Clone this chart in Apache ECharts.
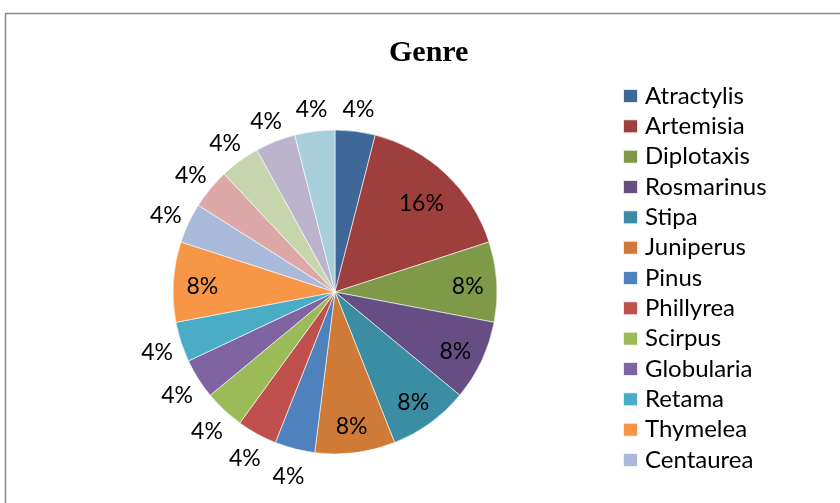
<!DOCTYPE html>
<html>
<head>
<meta charset="utf-8">
<script src="https://cdn.jsdelivr.net/npm/echarts@6/dist/echarts.min.js"></script>
<style>
  html, body { margin: 0; padding: 0; background: #fff; }
  #chart { width: 840px; height: 503px; }
</style>
</head>
<body>
<div id="chart"></div>
<script>
// Genres in clockwise order from 12 o'clock (only the first 13 are listed in the legend)
const genres = ['Atractylis', 'Artemisia', 'Diplotaxis', 'Rosmarinus', 'Stipa', 'Juniperus',
  'Pinus', 'Phillyrea', 'Scirpus', 'Globularia', 'Retama', 'Thymelea', 'Centaurea',
  'Lygeum', 'Peganum', 'Ziziphus', 'Thapsia'];
// Share of each genre, percent
const percents = [4, 16, 8, 8, 8, 8, 4, 4, 4, 4, 4, 8, 4, 4, 4, 4, 4];
// Legend entries visible in the reference
const legendNames = ['Atractylis', 'Artemisia', 'Diplotaxis', 'Rosmarinus', 'Stipa', 'Juniperus',
  'Pinus', 'Phillyrea', 'Scirpus', 'Globularia', 'Retama', 'Thymelea', 'Centaurea'];

const colors = ['#3F6797', '#9E3F3D', '#7E9A48', '#664E85', '#3A8DA2', '#CF7B37',
  '#4F81BD', '#C0504D', '#9BBB59', '#8064A2', '#4BACC6', '#F79646', '#A9BADB',
  '#DCA9A8', '#C6D5AC', '#BCB3CD', '#A9CEDC'];

const FONT = 'Lato';
const center = [335, 292];

const mainData = genres.map((g, i) => ({
  name: g, value: percents[i], itemStyle: { color: colors[i] }
}));
const labelData = (showIf) => genres.map((g, i) => ({
  name: g, value: percents[i],
  label: { show: showIf(percents[i]) }
}));

const labelSeries = (radius, showIf) => ({
  type: 'pie',
  center: center,
  radius: radius,
  startAngle: 90,
  silent: true,
  legendHoverLink: false,
  animation: false,
  itemStyle: { color: 'rgba(0,0,0,0)', borderWidth: 0 },
  emphasis: { disabled: true },
  label: {
    position: 'inside',
    formatter: '{c}%',
    color: '#000',
    fontFamily: FONT,
    fontSize: 23,
    offset: [0, 3]
  },
  labelLine: { show: false },
  data: labelData(showIf)
});

const chart = echarts.init(document.getElementById('chart'), null, { renderer: 'canvas' });
chart.setOption({
  animation: false,
  backgroundColor: '#fff',
  title: {
    text: 'Genre',
    left: 389,
    top: 38,
    padding: 0,
    textStyle: {
      fontFamily: '"Liberation Serif", "Times New Roman", serif',
      fontWeight: 'bold',
      fontSize: 30,
      color: '#000'
    }
  },
  graphic: [{
    type: 'rect',
    shape: { x: 5.5, y: 13.5, width: 900, height: 600 },
    style: { fill: 'none', stroke: '#8a8a8a', lineWidth: 1.5 },
    silent: true
  }],
  legend: {
    orient: 'vertical',
    left: 617,
    top: 79,
    data: legendNames,
    icon: 'rect',
    itemWidth: 15,
    itemHeight: 14,
    itemGap: 6.33,
    selectedMode: false,
    textStyle: { fontFamily: FONT, fontSize: 24, color: '#000', padding: [0, 0, 0, 2] }
  },
  series: [
    {
      type: 'pie',
      center: center,
      radius: 162,
      startAngle: 90,
      animation: false,
      itemStyle: { borderColor: 'rgba(255,255,255,0.85)', borderWidth: 0.7 },
      label: { show: false },
      labelLine: { show: false },
      emphasis: { disabled: true },
      data: mainData
    },
    labelSeries([84, 162], v => v >= 16),
    labelSeries([98, 162], v => v === 8),
    labelSeries([162, 206], v => v < 8)
  ]
});
</script>
</body>
</html>
